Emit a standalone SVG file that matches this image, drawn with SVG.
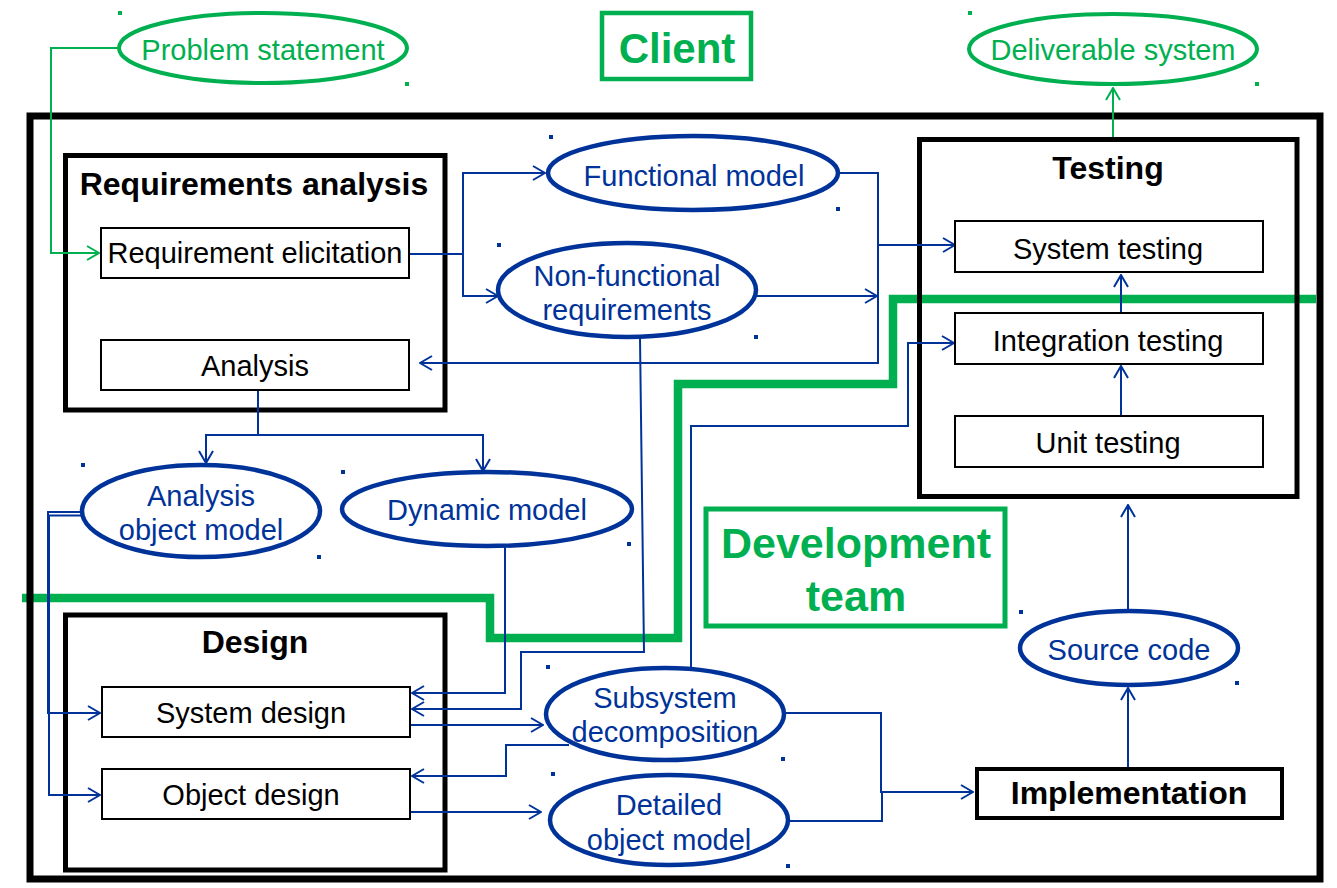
<svg xmlns="http://www.w3.org/2000/svg" width="1337" height="888" viewBox="0 0 1337 888">
<defs>
<marker id="ab" markerUnits="userSpaceOnUse" markerWidth="14" markerHeight="16" viewBox="0 0 14 16" refX="13" refY="8" orient="auto"><path d="M1,1 L13,8 L1,15" fill="none" stroke="#003399" stroke-width="2"/></marker>
<marker id="ag" markerUnits="userSpaceOnUse" markerWidth="14" markerHeight="16" viewBox="0 0 14 16" refX="13" refY="8" orient="auto"><path d="M1,1 L13,8 L1,15" fill="none" stroke="#00b050" stroke-width="2"/></marker>
<style>
text{font-family:"Liberation Sans",Arial,sans-serif;text-anchor:middle}
.t{font-size:29px;fill:#000}
.tb{font-size:32px;font-weight:bold;fill:#000}
.tu{font-size:29px;fill:#003399}
.tg{font-size:29px;fill:#00b050}
.big{fill:none;stroke:#000;stroke-width:5}
.box{fill:#fff;stroke:#000;stroke-width:2}
.el{fill:#fff;stroke:#003399;stroke-width:4.5}
.elg{fill:#fff;stroke:#00b050;stroke-width:4}
.c{fill:none;stroke:#003399;stroke-width:2}
.cg{fill:none;stroke:#00b050;stroke-width:2}
.db{fill:#003399}
.dg{fill:#00b050}
</style>
</defs>
<rect width="1337" height="888" fill="#fff"/>
<!-- development team boundary -->
<path id="boundary" d="M22,598 H490 V638 H678 V384 H893 V299 H1316" fill="none" stroke="#00b050" stroke-width="8.5"/>
<!-- outer frame -->
<rect id="frame" x="30" y="116" width="1290" height="763" fill="none" stroke="#000" stroke-width="7"/>

<g id="client">
<rect x="602" y="13" width="149" height="66" fill="none" stroke="#00b050" stroke-width="4.5"/>
<text x="677" y="63" style="font-size:42px;font-weight:bold;fill:#00b050">Client</text>
</g>
<g id="devteam">
<rect x="706" y="509" width="299" height="117" fill="none" stroke="#00b050" stroke-width="5"/>
<text x="856" y="558" style="font-size:43px;font-weight:bold;fill:#00b050">Development</text>
<text x="856" y="611" style="font-size:43px;font-weight:bold;fill:#00b050">team</text>
</g>

<g id="req-analysis">
<rect class="big" x="65.5" y="155.5" width="379.5" height="254.5"/>
<text class="tb" x="254" y="195">Requirements analysis</text>
</g>
<g id="design">
<rect class="big" x="65.5" y="615" width="379.5" height="255"/>
<text class="tb" x="255" y="653">Design</text>
</g>
<g id="testing">
<rect class="big" x="919.5" y="139.5" width="377.5" height="357"/>
<text class="tb" x="1108" y="179">Testing</text>
</g>

<g id="connectors">
<path class="cg" d="M118,48 H51 V253 H99" marker-end="url(#ag)"/>
<path class="cg" d="M1113,137 V88" marker-end="url(#ag)"/>
<path class="c" d="M409,254 H463 V173 H545" marker-end="url(#ab)"/>
<path class="c" d="M463,254 V296 H498" marker-end="url(#ab)"/>
<path class="c" d="M839,173 H878 V245 H955" marker-end="url(#ab)"/>
<path class="c" d="M878,245 V363 H420" marker-end="url(#ab)"/>
<path class="c" d="M757,296 H877" marker-end="url(#ab)"/>
<path class="c" d="M258,391 V435 H206 V463" marker-end="url(#ab)"/>
<path class="c" d="M258,435 H483 V471" marker-end="url(#ab)"/>
<path class="c" d="M83,512 H48 V713 H100" marker-end="url(#ab)"/>
<path class="c" d="M83,515.5 H49 V795 H100" marker-end="url(#ab)"/>
<path class="c" d="M505,545 V693 H412" marker-end="url(#ab)"/>
<path class="c" d="M640,338 L644,652 H521 V709 H412" marker-end="url(#ab)"/>
<path class="c" d="M410,725 H543" marker-end="url(#ab)"/>
<path class="c" d="M569,745 H506 V776 H412" marker-end="url(#ab)"/>
<path class="c" d="M410,812 H541" marker-end="url(#ab)"/>
<path class="c" d="M784,713 H881 V792 H973" marker-end="url(#ab)"/>
<path class="c" d="M790,821 H882 V792"/>
<path class="c" d="M691,668 V426 H908 V343 H954" marker-end="url(#ab)"/>
<path class="c" d="M1128,767 V688" marker-end="url(#ab)"/>
<path class="c" d="M1128,611 V505" marker-end="url(#ab)"/>
<path class="c" d="M1121,416 V366" marker-end="url(#ab)"/>
<path class="c" d="M1121,313 V275" marker-end="url(#ab)"/>
</g>

<g id="problem-statement">
<ellipse class="elg" cx="263" cy="48" rx="144" ry="35"/>
<text class="tg" x="263" y="60">Problem statement</text>
<rect class="dg" x="118" y="11" width="4" height="4"/><rect class="dg" x="405" y="82" width="4" height="4"/>
</g>
<g id="deliverable-system">
<ellipse class="elg" cx="1113" cy="49" rx="144" ry="35"/>
<text class="tg" x="1113" y="60">Deliverable system</text>
<rect class="dg" x="968" y="11" width="4" height="4"/><rect class="dg" x="1255" y="82" width="4" height="4"/>
</g>

<g id="requirement-elicitation">
<rect class="box" x="101" y="228" width="308" height="50"/>
<text class="t" x="255" y="263">Requirement elicitation</text>
</g>
<g id="analysis">
<rect class="box" x="101" y="340" width="308" height="50"/>
<text class="t" x="255" y="376">Analysis</text>
</g>
<g id="functional-model">
<ellipse class="el" cx="693" cy="173" rx="145" ry="37"/>
<text class="tu" x="694" y="186">Functional model</text>
<rect class="db" x="549" y="135" width="4" height="4"/><rect class="db" x="836" y="207" width="4" height="4"/>
</g>
<g id="non-functional">
<ellipse class="el" cx="627" cy="290" rx="129" ry="47"/>
<text class="tu" x="627" y="286">Non-functional</text>
<text class="tu" x="627" y="320">requirements</text>
<rect class="db" x="497" y="243" width="4" height="4"/><rect class="db" x="754" y="335" width="4" height="4"/>
</g>
<g id="analysis-object-model">
<ellipse class="el" cx="201" cy="511" rx="119" ry="46"/>
<text class="tu" x="201" y="506">Analysis</text>
<text class="tu" x="201" y="540">object model</text>
<rect class="db" x="81" y="463" width="4" height="4"/><rect class="db" x="317" y="555" width="4" height="4"/>
</g>
<g id="dynamic-model">
<ellipse class="el" cx="487" cy="509" rx="145" ry="37"/>
<text class="tu" x="487" y="520">Dynamic model</text>
<rect class="db" x="341" y="470" width="4" height="4"/><rect class="db" x="627" y="542" width="4" height="4"/>
</g>
<g id="system-design">
<rect class="box" x="102" y="687" width="308" height="50"/>
<text class="t" x="251" y="723">System design</text>
</g>
<g id="object-design">
<rect class="box" x="102" y="769" width="308" height="50"/>
<text class="t" x="251" y="805">Object design</text>
</g>
<g id="subsystem-decomposition">
<ellipse class="el" cx="665" cy="714" rx="119" ry="46"/>
<text class="tu" x="665" y="708">Subsystem</text>
<text class="tu" x="665" y="742">decomposition</text>
<rect class="db" x="546" y="665" width="4" height="4"/><rect class="db" x="781" y="757" width="4" height="4"/>
</g>
<g id="detailed-object-model">
<ellipse class="el" cx="669" cy="820" rx="119" ry="45"/>
<text class="tu" x="669" y="815">Detailed</text>
<text class="tu" x="669" y="850">object model</text>
<rect class="db" x="551" y="772" width="4" height="4"/><rect class="db" x="786" y="864" width="4" height="4"/>
</g>
<g id="implementation">
<rect x="977" y="769" width="305" height="49" fill="#fff" stroke="#000" stroke-width="4"/>
<text class="tb" x="1129" y="804">Implementation</text>
</g>
<g id="source-code">
<ellipse class="el" cx="1129" cy="648" rx="109" ry="37"/>
<text class="tu" x="1129" y="660">Source code</text>
<rect class="db" x="1019" y="610" width="4" height="4"/><rect class="db" x="1235" y="681" width="4" height="4"/>
</g>
<g id="system-testing">
<rect class="box" x="955" y="221" width="308" height="51"/>
<text class="t" x="1108" y="259">System testing</text>
</g>
<g id="integration-testing">
<rect class="box" x="955" y="313" width="308" height="51"/>
<text class="t" x="1108" y="351">Integration testing</text>
</g>
<g id="unit-testing">
<rect class="box" x="955" y="416" width="308" height="51"/>
<text class="t" x="1108" y="453">Unit testing</text>
</g>
</svg>
